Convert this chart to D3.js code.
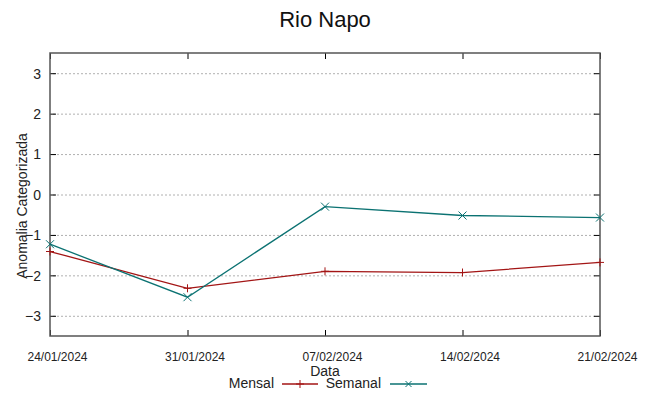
<!DOCTYPE html>
<html><head><meta charset="utf-8">
<script src="https://cdn.jsdelivr.net/npm/d3@7"></script>
<style>
body{margin:0;background:#fff;}
svg{display:block;}
</style></head>
<body>
<svg id="chart" width="649" height="396"></svg>
<script>
const dates = ["24/01/2024","31/01/2024","07/02/2024","14/02/2024","21/02/2024"];
const mensal = [-1.41, -2.32, -1.90, -1.93, -1.68];
const semanal = [-1.23, -2.54, -0.30, -0.52, -0.57];
const yTicks = [-3,-2,-1,0,1,2,3];
const title = "Rio Napo";
const xTitle = "Data";
const yTitle = "Anomalia Categorizada";
const seriesNames = ["Mensal","Semanal"];

const svg = d3.select("#chart");
const L = 50, R = 600, T = 53, B = 336;
const parse = d3.timeParse("%d/%m/%Y");
const fmt = d3.timeFormat("%d/%m/%Y");
const xd = dates.map(parse);
const x = d3.scaleTime().domain([xd[0], xd[xd.length-1]]).range([L, R]);
const y = d3.scaleLinear().domain([-3.5, 3.5]).range([B, T]);
const sans = "'Liberation Sans',Arial,sans-serif";
const colors = ["#a31515", "#0b7272"];

// grid
svg.append("g").selectAll("line").data(yTicks).join("line")
  .attr("x1", L+3).attr("x2", R-3)
  .attr("y1", d=>y(d)+0.5).attr("y2", d=>y(d)+0.5)
  .attr("stroke", "#b0b0b0").attr("stroke-width", 1).attr("stroke-dasharray", "2,2");

// axes with inward ticks
const yAxisL = d3.axisLeft(y).tickValues(yTicks).tickSize(-6).tickPadding(9).tickFormat(d3.format("d"));
const gl = svg.append("g").attr("transform", `translate(${L},0)`).call(yAxisL);
const yAxisR = d3.axisRight(y).tickValues(yTicks).tickSize(-6).tickFormat("");
const gr = svg.append("g").attr("transform", `translate(${R},0)`).call(yAxisR);
const xAxisB = d3.axisBottom(x).tickValues(xd).tickSize(-6).tickPadding(16).tickFormat(fmt);
const gb = svg.append("g").attr("transform", `translate(0,${B})`).call(xAxisB);
const xAxisT = d3.axisTop(x).tickValues(xd).tickSize(-6).tickFormat("");
const gt = svg.append("g").attr("transform", `translate(0,${T})`).call(xAxisT);
[gl,gr,gb,gt].forEach(g=>{ g.select(".domain").remove(); g.selectAll(".tick line").attr("stroke","#000"); });
gl.selectAll("text").attr("font-family", sans).attr("font-size", 14).attr("fill","#222").attr("dy","0.35em");
gb.selectAll("text").attr("font-family", sans).attr("font-size", 12).attr("fill","#222").attr("dx", 7);

// frame
svg.append("rect").attr("x", L).attr("y", T).attr("width", R-L).attr("height", B-T)
  .attr("fill","none").attr("stroke","#555").attr("stroke-width",1.5);

// series
const line = d3.line().x((d,i)=>x(xd[i])).y(d=>y(d));
[mensal, semanal].forEach((s,k)=>{
  svg.append("path").datum(s).attr("d", line).attr("fill","none")
    .attr("stroke", colors[k]).attr("stroke-width", 1.3);
  svg.append("g").selectAll("path").data(s).join("path")
    .attr("transform", (d,i)=>`translate(${x(xd[i])},${y(d)})`)
    .attr("d", k===0 ? "M-4,0H4M0,-4V4" : "M-4,-4L4,4M-4,4L4,-4")
    .attr("stroke", colors[k]).attr("stroke-width", 1).attr("fill","none");
});

// titles
svg.append("text").attr("x", 325).attr("y", 27).attr("text-anchor","middle")
  .attr("font-family", sans).attr("font-size", 22).attr("fill","#111").text(title);
svg.append("text").attr("x", 325).attr("y", 376).attr("text-anchor","middle")
  .attr("font-family", sans).attr("font-size", 14).attr("fill","#222").text(xTitle);
svg.append("text").attr("transform","translate(27,206) rotate(-90)").attr("text-anchor","middle")
  .attr("font-family", sans).attr("font-size", 14).attr("fill","#222").text(yTitle);

// legend
const legY = 384;
const leg = [{tx:274, x1:282, x2:318},{tx:381, x1:390, x2:427}];
leg.forEach((p,k)=>{
  svg.append("text").attr("x", p.tx).attr("y", legY+4).attr("text-anchor","end")
    .attr("font-family", sans).attr("font-size", 14).attr("fill","#222").text(seriesNames[k]);
  svg.append("line").attr("x1",p.x1).attr("x2",p.x2).attr("y1",legY).attr("y2",legY)
    .attr("stroke", colors[k]).attr("stroke-width",1.3);
  const cx = (p.x1+p.x2)/2;
  svg.append("path").attr("transform",`translate(${cx},${legY})`)
    .attr("d", k===0 ? "M-4,0H4M0,-4V4" : "M-3,-3L3,3M-3,3L3,-3")
    .attr("stroke", colors[k]).attr("fill","none");
});
</script>
</body></html>
